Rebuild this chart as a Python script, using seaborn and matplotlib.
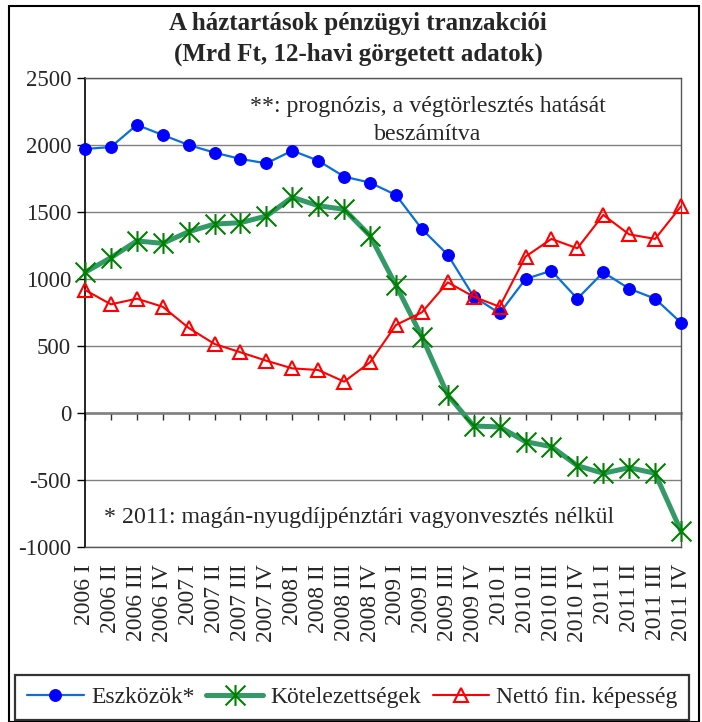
import numpy as np
import pandas as pd
import matplotlib
matplotlib.use("Agg")
import matplotlib.pyplot as plt
import matplotlib.patches as mpatches
from matplotlib.path import Path
import seaborn as sns

# quarters 2006 I .. 2011 IV
quarters = [f"{y} {q}" for y in range(2006, 2012) for q in ["I", "II", "III", "IV"]]

eszkozok = [1970, 1985, 2150, 2075, 2000, 1943, 1896, 1863, 1958, 1883, 1764, 1719,
            1627, 1373, 1181, 868, 744, 1000, 1062, 853, 1050, 928, 853, 674]
kotelezettsegek = [1050, 1159, 1284, 1266, 1353, 1410, 1420, 1470, 1610, 1547, 1520, 1323,
                   953, 570, 134, -97, -104, -214, -251, -393, -450, -408, -450, -881]
netto = [918, 811, 853, 793, 635, 515, 453, 390, 333, 321, 234, 378,
         657, 751, 975, 868, 793, 1167, 1299, 1229, 1478, 1333, 1299, 1542]

series_labels = ["Eszközök*", "Kötelezettségek", "Nettó fin. képesség"]
title = "A háztartások pénzügyi tranzakciói\n(Mrd Ft, 12-havi görgetett adatok)"
note_top = "**: prognózis, a végtörlesztés hatását\nbeszámítva"
note_bottom = "* 2011: magán-nyugdíjpénztári vagyonvesztés nélkül"

df = pd.DataFrame({
    "x": np.arange(len(quarters)),
    "eszk": eszkozok,
    "kot": kotelezettsegek,
    "net": netto,
})

sns.set_style("white")
plt.rcParams["font.family"] = ["Liberation Serif", "DejaVu Serif"]
plt.rcParams["font.size"] = 16
plt.rcParams["axes.unicode_minus"] = False

W, H = 702, 722
fig = plt.figure(figsize=(W / 100, H / 100), dpi=100)
ax = fig.add_axes([85 / W, (H - 547) / H, (681 - 85) / W, (547 - 78) / H])

# asterisk marker (x plus vertical bar)
star = Path([(-1, -1), (1, 1), (-1, 1), (1, -1), (0, -1.05), (0, 1.05)],
            [Path.MOVETO, Path.LINETO, Path.MOVETO, Path.LINETO, Path.MOVETO, Path.LINETO])

sns.lineplot(data=df, x="x", y="eszk", ax=ax, color="#0a6fd6", lw=1.6,
             marker="o", markersize=8.5, markerfacecolor="#0000ff",
             markeredgecolor="#0000ff", label=series_labels[0], clip_on=False, zorder=3)
sns.lineplot(data=df, x="x", y="kot", ax=ax, color="#339966", lw=3.6,
             marker=star, markersize=15, markeredgecolor="#008000", markeredgewidth=1.5,
             label=series_labels[1], clip_on=False, zorder=4)
sns.lineplot(data=df, x="x", y="net", ax=ax, color="#ff0000", lw=1.5,
             marker="^", markersize=9.5, markerfacecolor="none",
             markeredgecolor="#ff0000", markeredgewidth=1.5,
             label=series_labels[2], clip_on=False, zorder=5)

ax.set_xlim(0, len(quarters) - 1)
ax.set_ylim(-1000, 2500)
ax.set_yticks(np.arange(-1000, 2501, 500))
ax.set_xticks(df["x"])
ax.set_xticklabels(quarters, rotation=90)
ax.set_xlabel("")
ax.set_ylabel("")
ax.tick_params(axis="x", length=0, pad=12, labelsize=17)
ax.tick_params(axis="y", direction="out", length=6, width=1, color="black",
               pad=4, labelsize=16.5, left=True)

ax.grid(axis="y", color="#808080", lw=1)
ax.set_axisbelow(True)
for side in ["top", "right", "bottom"]:
    ax.spines[side].set_color("#555555")
    ax.spines[side].set_linewidth(1)
ax.spines["left"].set_color("black")
ax.spines["left"].set_linewidth(1.2)

# category axis crossing at zero
sec = ax.secondary_xaxis(1000 / 3500)
sec.set_xticks(df["x"])
sec.tick_params(axis="x", direction="out", length=5, width=1, color="#333333",
                labelbottom=False, labeltop=False)
sec.spines["bottom"].set_color("#777777")
sec.spines["bottom"].set_linewidth(1.8)
sec.spines["top"].set_color("#777777")
sec.spines["top"].set_linewidth(1.8)

ax.text(0.575, 0.91, note_top, transform=ax.transAxes, ha="center", va="center",
        multialignment="center", linespacing=1.45, fontsize=17.2)
ax.text(0.46, 0.062, note_bottom, transform=ax.transAxes, ha="center", va="center",
        fontsize=17.2)

fig.text(0.51, 1 - 39 / H, title, ha="center", va="center", fontweight="bold",
         fontsize=18, linespacing=1.4)

ax.get_legend().remove()
handles, labels = ax.get_legend_handles_labels()
leg = fig.legend(handles, labels, loc="lower center", bbox_to_anchor=(0.502, 0.0),
                 ncol=3, frameon=True, fancybox=False, edgecolor="black",
                 fontsize=17, handlelength=2.4, handletextpad=0.3,
                 columnspacing=0.5, borderpad=0.5, borderaxespad=0.1)
leg.get_frame().set_linewidth(1.6)

fig.patches.append(mpatches.Rectangle((9 / W, 0.5 / H), (699 - 9) / W, (H - 6.5) / H,
                                      transform=fig.transFigure, fill=False,
                                      edgecolor="black", lw=1.5))

fig.savefig("out.png", dpi=100)
